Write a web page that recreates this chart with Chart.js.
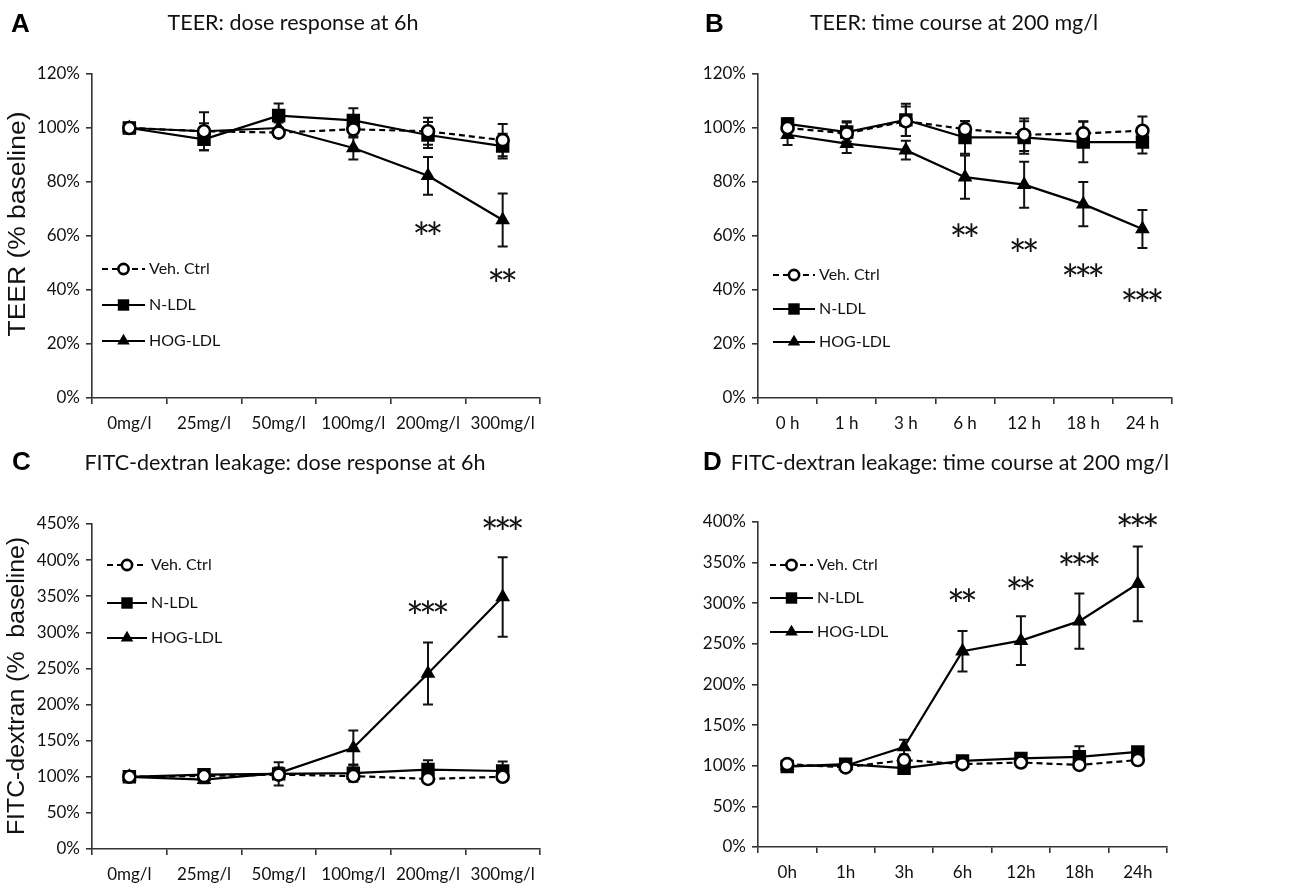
<!DOCTYPE html>
<html><head><meta charset="utf-8">
<script src="https://cdn.jsdelivr.net/npm/chart.js@4.4.1/dist/chart.umd.min.js"></script>
<style>
html,body{margin:0;padding:0;background:#fff;}
#wrap{position:relative;width:1313px;height:886px;overflow:hidden;background:#fff;}
canvas{position:absolute;}
</style></head><body>
<div id="wrap">
<canvas id="cA" width="656" height="443" style="left:0px;top:0px;width:656px;height:443px"></canvas>
<canvas id="cB" width="657" height="443" style="left:656px;top:0px;width:657px;height:443px"></canvas>
<canvas id="cC" width="656" height="443" style="left:0px;top:443px;width:656px;height:443px"></canvas>
<canvas id="cD" width="657" height="443" style="left:656px;top:443px;width:657px;height:443px"></canvas>
</div>
<script>
// ---------- data ----------
const seriesNames = ['Veh. Ctrl', 'N-LDL', 'HOG-LDL'];
const doseLabels = ['0mg/l', '25mg/l', '50mg/l', '100mg/l', '200mg/l', '300mg/l'];
const timeLabelsB = ['0 h', '1 h', '3 h', '6 h', '12 h', '18 h', '24 h'];
const timeLabels = ['0h', '1h', '3h', '6h', '12h', '18h', '24h'];

// Panel A: TEER dose response (% baseline)
const vehA = [100, 98.8, 98.3, 99.5, 98.8, 95.5];
const vehAErr = [1.5, 7, 1.5, 3, 5, 6];
const nA = [100, 95.8, 104.6, 102.8, 97.4, 93.3];
const nAErr = [1.5, 4, 4.5, 4.5, 4.8, 4.6];
const hogA = [100, 98.8, 100, 92.6, 82.3, 65.9];
const hogAErr = [1, 3, 2, 4.3, 7, 9.8];
const starsA = [[4, 62.9, '**'], [5, 45.5, '**']];

// Panel B: TEER time course
const vehB = [100, 98, 102.5, 99.6, 97.5, 98, 99];
const vehBErr = [3.5, 4.5, 5.5, 3, 6, 4.5, 5.3];
const nB = [101.5, 98.5, 103, 96.5, 96.5, 94.8, 94.8];
const nBErr = [2, 3.5, 6, 6, 6, 7.5, 4.2];
const hogB = [97.5, 94.2, 91.8, 81.8, 79, 71.8, 62.6];
const hogBErr = [3.8, 3.5, 3.5, 8, 8.5, 8.2, 7];
const starsB = [[3, 62.2, '**'], [4, 56.5, '**'], [5, 47.3, '***'], [6, 38, '***']];

// Panel C: FITC-dextran dose response
const vehC = [100, 101, 103, 101, 97, 100];
const vehCErr = [3, 4, 3, 3, 3, 3];
const nC = [100, 103, 104, 105, 110, 108];
const nCErr = [4, 5, 16, 12, 13, 13];
const hogC = [100, 96, 105, 140, 243, 349];
const hogCErr = [3, 5, 8, 24, 43, 55];
const starsC = [[4, 335, '***'], [5, 452, '***']];

// Panel D: FITC-dextran time course
const vehD = [102, 98, 107, 102, 104, 101, 107];
const vehDErr = [3, 3, 5, 3, 3, 4, 4];
const nD = [99, 102, 97, 106, 109, 111, 117];
const nDErr = [3, 3, 3, 3, 3, 13, 4];
const hogD = [100, 100, 123, 241, 254, 278, 324];
const hogDErr = [2, 3, 9, 25, 30, 34, 46];
const starsD = [[3, 310, '**'], [4, 325, '**'], [5, 355, '***'], [6, 402, '***']];

// ---------- styling ----------
const TXT = 'Lato, "Open Sans", sans-serif';
const AXF = '"Liberation Sans", Arial, sans-serif';
const INK = '#111';
const AXIS = '#333';

function mkDatasets(v, n, h) {
  return [
    {label: seriesNames[0], data: v, borderColor: '#000', borderWidth: 2.2, borderDash: [6, 4],
     pointStyle: 'circle', pointRadius: 6, pointBackgroundColor: '#fff', pointBorderColor: '#000', pointBorderWidth: 2.6, tension: 0},
    {label: seriesNames[1], data: n, borderColor: '#000', borderWidth: 2.2,
     pointStyle: 'rect', pointRadius: 9.5, pointBackgroundColor: '#000', pointBorderColor: '#000', pointBorderWidth: 0, tension: 0},
    {label: seriesNames[2], data: h, borderColor: '#000', borderWidth: 2.2,
     pointStyle: 'triangle', pointRadius: 8.5, pointBackgroundColor: '#000', pointBorderColor: '#000', pointBorderWidth: 0, tension: 0}
  ];
}

function decor(cfg) {
  return {
    id: 'decor',
    beforeDatasetsDraw(chart) {
      const ctx = chart.ctx, xs = chart.scales.x, ys = chart.scales.y;
      ctx.save();
      ctx.strokeStyle = '#111';
      ctx.lineWidth = 2;
      cfg.errs.forEach((errArr, di) => {
        const vals = chart.data.datasets[di].data;
        errArr.forEach((e, i) => {
          const px = xs.getPixelForValue(i);
          const t = ys.getPixelForValue(vals[i] + e), b = ys.getPixelForValue(vals[i] - e);
          ctx.beginPath();
          ctx.moveTo(px, t); ctx.lineTo(px, b);
          ctx.moveTo(px - 5, t); ctx.lineTo(px + 5, t);
          ctx.moveTo(px - 5, b); ctx.lineTo(px + 5, b);
          ctx.stroke();
        });
      });
      ctx.restore();
    },
    afterDraw(chart) {
      const ctx = chart.ctx, xs = chart.scales.x, ys = chart.scales.y;
      ctx.save();
      // panel letter
      ctx.fillStyle = '#000';
      ctx.font = 'bold 26px ' + AXF;
      ctx.textAlign = 'left'; ctx.textBaseline = 'middle';
      ctx.fillText(cfg.letter, cfg.letterX, cfg.letterY);
      // title
      ctx.fillStyle = INK;
      ctx.font = cfg.titleFont + 'px ' + TXT;
      ctx.textAlign = 'center';
      ctx.fillText(cfg.title, cfg.titleX, cfg.titleY);
      // y title
      if (cfg.yTitle) {
        ctx.save();
        ctx.translate(cfg.yTitleX, cfg.yTitleY);
        ctx.rotate(-Math.PI / 2);
        ctx.scale(cfg.yTitleStretch, 1);
        ctx.font = '23px ' + AXF;
        ctx.textAlign = 'center'; ctx.textBaseline = 'middle';
        ctx.fillText(cfg.yTitle, 0, 0);
        ctx.restore();
      }
      // legend
      chart.data.datasets.forEach((ds, i) => {
        const yy = cfg.legRows[i];
        ctx.save();
        ctx.strokeStyle = '#000'; ctx.lineWidth = 2.2;
        ctx.setLineDash(ds.borderDash || []);
        ctx.beginPath(); ctx.moveTo(cfg.legX0, yy); ctx.lineTo(cfg.legX1, yy); ctx.stroke();
        ctx.setLineDash([]);
        ctx.fillStyle = ds.pointBackgroundColor; ctx.strokeStyle = '#000';
        ctx.lineWidth = ds.pointBorderWidth;
        Chart.helpers.drawPoint(ctx, {pointStyle: ds.pointStyle, radius: ds.pointRadius * 0.85, borderWidth: ds.pointBorderWidth, rotation: 0},
          (cfg.legX0 + cfg.legX1) / 2, yy);
        ctx.restore();
        ctx.fillStyle = INK;
        ctx.font = '16px ' + TXT;
        ctx.textAlign = 'left'; ctx.textBaseline = 'middle';
        ctx.fillText(ds.label, cfg.legX1 + 4, yy);
      });
      // significance stars (one asterisk per glyph at a fixed pitch)
      ctx.font = '42px ' + TXT;
      ctx.fillStyle = INK;
      ctx.textAlign = 'center'; ctx.textBaseline = 'alphabetic';
      const m = ctx.measureText('*');
      const off = (m.actualBoundingBoxAscent - m.actualBoundingBoxDescent) / 2;
      cfg.stars.forEach(s => {
        const px = xs.getPixelForValue(s[0]);
        const py = ys.getPixelForValue(s[1]);
        const k = s[2].length;
        for (let j = 0; j < k; j++) {
          ctx.fillText('*', px + (j - (k - 1) / 2) * 13, py + off);
        }
      });
      ctx.restore();
    }
  };
}

function makeChart(id, labels, v, n, h, errs, yMax, yStep, lay, cfg) {
  return new Chart(document.getElementById(id), {
    type: 'line',
    data: {labels: labels, datasets: mkDatasets(v, n, h)},
    options: {
      responsive: false, animation: false, devicePixelRatio: 1,
      layout: {padding: {left: 0, top: lay.top, right: lay.right, bottom: 0}},
      plugins: {legend: {display: false}, tooltip: {enabled: false}, title: {display: false}},
      scales: {
        x: {
          type: 'category', offset: true,
          grid: {offset: true, drawOnChartArea: false, drawTicks: true, tickLength: 6, color: AXIS, lineWidth: 1.6},
          border: {display: true, color: AXIS, width: 1.6},
          ticks: {color: INK, font: {family: TXT, size: 17}, padding: 9, maxRotation: 0, autoSkip: false},
          afterFit: s => { s.height = lay.xH; }
        },
        y: {
          min: 0, max: yMax,
          grid: {drawOnChartArea: false, drawTicks: true, tickLength: 6, color: AXIS, lineWidth: 1.6},
          border: {display: true, color: AXIS, width: 1.6},
          ticks: {stepSize: yStep, color: INK, font: {family: TXT, size: 17}, padding: 6, callback: val => val + '%'},
          afterFit: s => { s.width = lay.yW; }
        }
      }
    },
    plugins: [decor(Object.assign({errs: errs}, cfg))]
  });
}

makeChart('cA', doseLabels, vehA, nA, hogA, [vehAErr, nAErr, hogAErr], 120, 20,
  {top: 74, right: 116, xH: 45, yW: 92},
  {letter: 'A', letterX: 11, letterY: 25, title: 'TEER: dose response at 6h', titleFont: 21.5, titleX: 293, titleY: 23,
   yTitle: 'TEER (% baseline)', yTitleX: 19, yTitleY: 224, yTitleStretch: 1.15,
   legX0: 102, legX1: 145, legRows: [269, 305, 341], stars: starsA});

makeChart('cB', timeLabelsB, vehB, nB, hogB, [vehBErr, nBErr, hogBErr], 120, 20,
  {top: 74, right: 141, xH: 45, yW: 102},
  {letter: 'B', letterX: 49, letterY: 25, title: 'TEER: time course at 200 mg/l', titleFont: 21.5, titleX: 298, titleY: 23,
   yTitle: null, legX0: 117, legX1: 159, legRows: [275, 309, 342], stars: starsB});

makeChart('cC', doseLabels, vehC, nC, hogC, [vehCErr, nCErr, hogCErr], 450, 50,
  {top: 81, right: 116, xH: 37, yW: 92},
  {letter: 'C', letterX: 12, letterY: 20, title: 'FITC-dextran leakage: dose response at 6h', titleFont: 21.5, titleX: 285, titleY: 20,
   yTitle: 'FITC-dextran (%  baseline)', yTitleX: 18, yTitleY: 243, yTitleStretch: 1.08,
   legX0: 107, legX1: 147, legRows: [122, 160, 195], stars: starsC});

makeChart('cD', timeLabels, vehD, nD, hogD, [vehDErr, nDErr, hogDErr], 400, 50,
  {top: 79, right: 146, xH: 39, yW: 102},
  {letter: 'D', letterX: 47, letterY: 20, title: 'FITC-dextran leakage: time course at 200 mg/l', titleFont: 21.5, titleX: 294, titleY: 20,
   yTitle: null, legX0: 114, legX1: 157, legRows: [122, 155, 189], stars: starsD});
</script>
</body></html>
